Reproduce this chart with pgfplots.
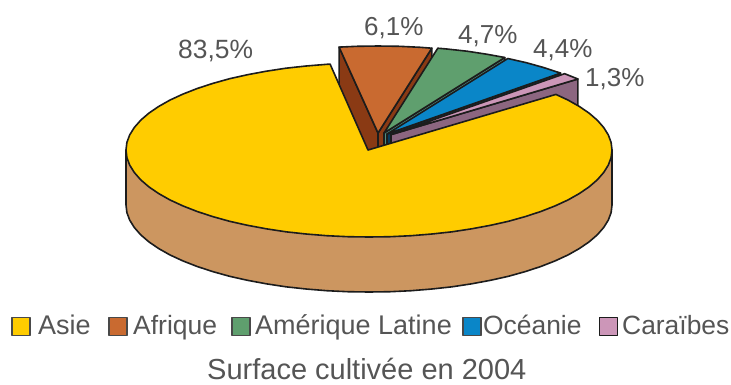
\documentclass[border=0pt]{standalone}
\usepackage{fontspec}
\setmainfont{Liberation Sans}
\usepackage{pgfplots}
\pgfplotsset{compat=1.18}
\definecolor{asie}{HTML}{FFCC00}
\definecolor{asieside}{HTML}{CC9660}
\definecolor{afrique}{HTML}{C96A30}
\definecolor{afriqueside}{HTML}{8A3A14}
\definecolor{amerique}{HTML}{5F9F6E}
\definecolor{ameriqueside}{HTML}{4F8F80}
\definecolor{oceanie}{HTML}{0A86C8}
\definecolor{oceanieside}{HTML}{063A5A}
\definecolor{caraibes}{HTML}{CC96B8}
\definecolor{caraibesside}{HTML}{8C6680}
\definecolor{outline}{HTML}{1C1C1C}
\definecolor{inktext}{HTML}{555555}
\newcommand{\lab}[3]{\node[anchor=base west,inner sep=0pt,text=inktext,font=\fontsize{#3}{#3}\selectfont] at #1 {#2};}
\begin{document}
\begin{tikzpicture}
\path[use as bounding box] (0,0) rectangle (731pt,384pt);
\begin{axis}[
  at={(0,0)}, anchor=south west,
  scale only axis, width=731pt, height=384pt,
  xmin=0, xmax=731, ymin=0, ymax=384, y dir=reverse,
  axis lines=none, clip=false,
  every axis plot/.append style={draw=outline, line width=1.6pt, line join=round},
]
% Afrique: left and right cut faces, then top
\addplot[fill=afriqueside] coordinates {(339.1,47.1)(378,133)(378,188)(339.1,102.1)} --cycle;
\addplot[fill=afriqueside] coordinates {(378,133)(431.8,48.2)(431.8,103.2)(378,188)} --cycle;
\addplot[fill=afrique] coordinates {(378,133)(339.1,47.1)(356.8,46.3)(378,46)(399.2,46.3)(420.2,47.3)(431.8,48.2)} --cycle;
% Amérique Latine
\addplot[fill=ameriqueside] coordinates {(384,133)(504.8,57.5)(504.8,112.5)(384,188)} --cycle;
\addplot[fill=amerique] coordinates {(384,133)(437.8,48.2)(446.9,49)(467.1,51.2)(486.7,54.2)(504.8,57.5)} --cycle;
% Océanie
\addplot[fill=oceanieside] coordinates {(387,134)(560.6,73.1)(560.6,128)(387,189)} --cycle;
\addplot[fill=oceanie] coordinates {(387,134)(507.8,58.5)(526.4,62.7)(543.2,67.4)(560.6,73.1)} --cycle;
% Caraïbes
\addplot[fill=caraibesside] coordinates {(391,134.6)(577.9,79)(577.9,134)(391,189.6)} --cycle;
\addplot[fill=caraibes] coordinates {(391,134.6)(564.6,73.7)(577.9,79)} --cycle;
% Asie: rim, then top
\addplot[fill=asieside] coordinates {(126,150)(126,205)(126.9,212.6)(129.7,220.1)(134.3,227.5)(140.7,234.8)(148.8,241.8)(158.6,248.5)(169.9,254.9)(182.9,260.9)(197.2,266.5)(212.8,271.6)(229.6,276.3)(247.5,280.3)(266.3,283.8)(285.9,286.8)(306.1,289)(326.8,290.7)(347.8,291.7)(369,292)(390.2,291.7)(411.2,290.7)(431.9,289)(452.1,286.8)(471.7,283.8)(490.5,280.3)(508.4,276.3)(525.2,271.6)(540.8,266.5)(555.1,260.9)(568.1,254.9)(579.4,248.5)(589.2,241.8)(597.3,234.8)(603.7,227.5)(608.3,220.1)(611.1,212.6)(612,205)(612,150)} --cycle;
\addplot[fill=asie] coordinates {(368,150)(555.9,94.4)(568.1,100.1)(579.4,106.5)(589.2,113.2)(597.3,120.2)(603.7,127.5)(608.3,134.9)(611.1,142.4)(612,150)(611.1,157.6)(608.3,165.1)(603.7,172.5)(597.3,179.8)(589.2,186.8)(579.4,193.5)(568.1,199.9)(555.1,205.9)(540.8,211.5)(525.2,216.6)(508.4,221.3)(490.5,225.3)(471.7,228.8)(452.1,231.8)(431.9,234)(411.2,235.7)(390.2,236.7)(369,237)(347.8,236.7)(326.8,235.7)(306.1,234)(285.9,231.8)(266.3,228.8)(247.5,225.3)(229.6,221.3)(212.8,216.6)(197.2,211.5)(182.9,205.9)(169.9,199.9)(158.6,193.5)(148.8,186.8)(140.7,179.8)(134.3,172.5)(129.7,165.1)(126.9,157.6)(126,150)(126.9,142.4)(129.7,134.9)(134.3,127.5)(140.7,120.2)(148.8,113.2)(158.6,106.5)(169.9,100.1)(182.9,94.1)(197.2,88.5)(212.8,83.4)(229.6,78.7)(247.5,74.7)(266.3,71.2)(285.9,68.2)(306.1,66)(326.8,64.3)(330.1,64.1)} --cycle;
% Legend keys
\addplot[only marks, mark=square*, mark size=9pt, mark options={fill=asie,draw=outline!80}] coordinates {(21,326.5)};
\addplot[only marks, mark=square*, mark size=9pt, mark options={fill=afrique,draw=outline!80}] coordinates {(118,326.5)};
\addplot[only marks, mark=square*, mark size=9pt, mark options={fill=amerique,draw=outline!80}] coordinates {(241,326.5)};
\addplot[only marks, mark=square*, mark size=9pt, mark options={fill=oceanie,draw=outline!80}] coordinates {(472,326.5)};
\addplot[only marks, mark=square*, mark size=9pt, mark options={fill=caraibes,draw=outline}] coordinates {(608.5,326.5)};
% Shares
\lab{(axis cs:178,58)}{83,5\%}{26.4}
\lab{(axis cs:364,35)}{6,1\%}{26}
\lab{(axis cs:458,43)}{4,7\%}{26}
\lab{(axis cs:533,57)}{4,4\%}{26}
\lab{(axis cs:585,86)}{1,3\%}{26}
% Legend text
\lab{(axis cs:38,334)}{Asie}{27}
\lab{(axis cs:133,334)}{Afrique}{26.5}
\lab{(axis cs:255,334)}{Amérique Latine}{27}
\lab{(axis cs:483,334)}{Océanie}{26.4}
\lab{(axis cs:622,334)}{Caraïbes}{26.4}
\lab{(axis cs:207,379.5)}{Surface cultivée en 2004}{29}
\end{axis}
\end{tikzpicture}
\end{document}
